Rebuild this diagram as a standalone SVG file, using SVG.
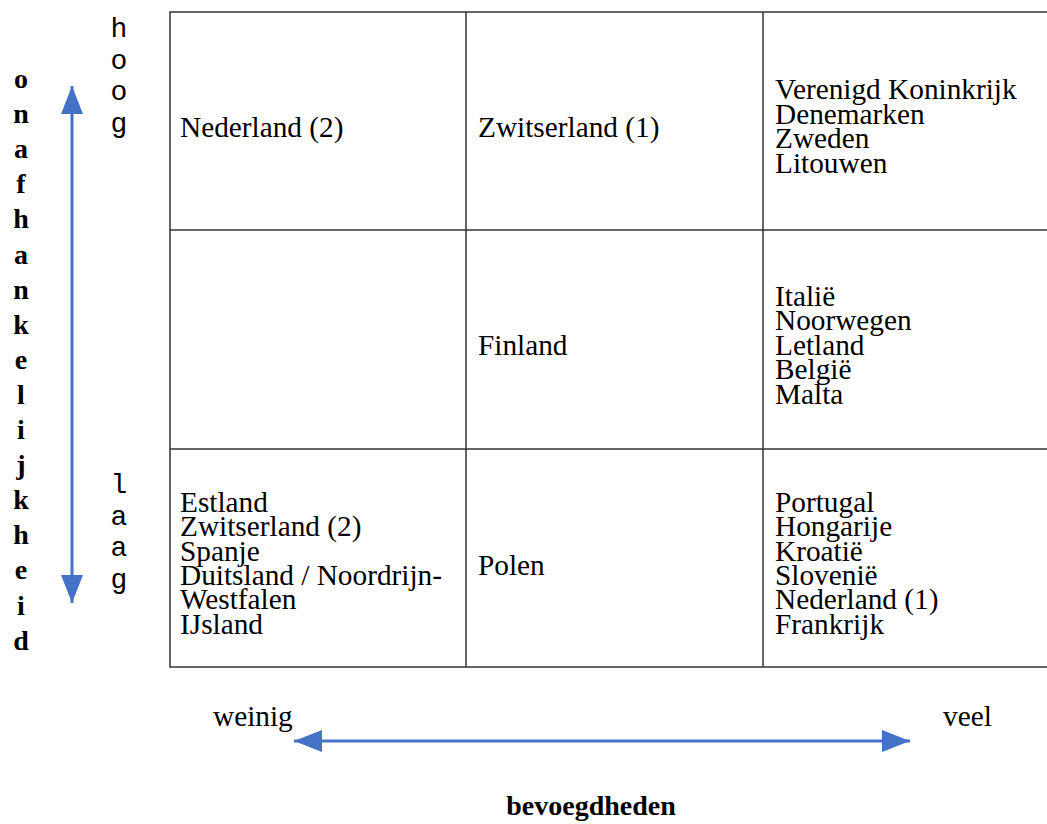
<svg xmlns="http://www.w3.org/2000/svg" width="1047" height="824" viewBox="0 0 1047 824">
<defs>
<style>
.t{font-family:"Liberation Serif","Times New Roman",serif;font-size:29.3px;fill:#000}
.b{font-family:"Liberation Serif","Times New Roman",serif;font-size:28px;font-weight:bold;fill:#000;text-anchor:middle}
.m{font-family:"Liberation Mono","Courier New",monospace;font-size:28px;fill:#000;text-anchor:middle}
.g{stroke:#333;stroke-width:1.5;fill:none}
.ax{stroke:#4472C4;stroke-width:3;fill:none}
</style>
<marker id="ah" markerUnits="userSpaceOnUse" markerWidth="28" markerHeight="22" refX="28" refY="11" orient="auto-start-reverse" viewBox="0 0 28 22">
<path d="M0,0 L28,11 L0,22 Z" fill="#4472C4"/>
</marker>
</defs>
<rect width="1047" height="824" fill="#fff"/>
<g id="grid">
<rect class="g" x="170" y="12" width="900" height="655"/>
<line class="g" x1="170" y1="230" x2="1070" y2="230"/>
<line class="g" x1="170" y1="449" x2="1070" y2="449"/>
<line class="g" x1="466" y1="12" x2="466" y2="667"/>
<line class="g" x1="763" y1="12" x2="763" y2="667"/>
</g>
<g id="cell-r1c1"><text class="t" x="180" y="137">Nederland (2)</text></g>
<g id="cell-r1c2"><text class="t" x="478" y="137">Zwitserland (1)</text></g>
<g id="cell-r1c3"><text class="t" x="775" y="99">Verenigd Koninkrijk<tspan x="775" dy="24.5">Denemarken</tspan><tspan x="775" dy="24.5">Zweden</tspan><tspan x="775" dy="24.5">Litouwen</tspan></text></g>
<g id="cell-r2c2"><text class="t" x="478" y="355">Finland</text></g>
<g id="cell-r2c3"><text class="t" x="775" y="306">Italië<tspan x="775" dy="24.4">Noorwegen</tspan><tspan x="775" dy="24.4">Letland</tspan><tspan x="775" dy="24.4">België</tspan><tspan x="775" dy="24.4">Malta</tspan></text></g>
<g id="cell-r3c1"><text class="t" x="180" y="512">Estland<tspan x="180" dy="24.3">Zwitserland (2)</tspan><tspan x="180" dy="24.3">Spanje</tspan><tspan x="180" dy="24.3">Duitsland / Noordrijn-</tspan><tspan x="180" dy="24.3">Westfalen</tspan><tspan x="180" dy="24.3">IJsland</tspan></text></g>
<g id="cell-r3c2"><text class="t" x="478" y="575">Polen</text></g>
<g id="cell-r3c3"><text class="t" x="775" y="512">Portugal<tspan x="775" dy="24.3">Hongarije</tspan><tspan x="775" dy="24.3">Kroatië</tspan><tspan x="775" dy="24.3">Slovenië</tspan><tspan x="775" dy="24.3">Nederland (1)</tspan><tspan x="775" dy="24.3">Frankrijk</tspan></text></g>
<g id="label-onafhankelijkheid">
<text class="b" x="21" y="88">o<tspan x="21" dy="35.1">n</tspan><tspan x="21" dy="35.1">a</tspan><tspan x="21" dy="35.1">f</tspan><tspan x="21" dy="35.1">h</tspan><tspan x="21" dy="35.1">a</tspan><tspan x="21" dy="35.1">n</tspan><tspan x="21" dy="35.1">k</tspan><tspan x="21" dy="35.1">e</tspan><tspan x="21" dy="35.1">l</tspan><tspan x="21" dy="35.1">i</tspan><tspan x="21" dy="35.1">j</tspan><tspan x="21" dy="35.1">k</tspan><tspan x="21" dy="35.1">h</tspan><tspan x="21" dy="35.1">e</tspan><tspan x="21" dy="35.1">i</tspan><tspan x="21" dy="35.1">d</tspan></text>
</g>
<g id="label-hoog"><text class="m" x="119" y="37">h<tspan x="119" dy="31.5">o</tspan><tspan x="119" dy="31.5">o</tspan><tspan x="119" dy="31.5">g</tspan></text></g>
<g id="label-laag"><text class="m" x="119" y="493">l<tspan x="119" dy="31.5">a</tspan><tspan x="119" dy="31.5">a</tspan><tspan x="119" dy="31.5">g</tspan></text></g>
<g id="label-weinig"><text class="t" x="213" y="726">weinig</text></g>
<g id="label-veel"><text class="t" x="943" y="726">veel</text></g>
<g id="label-bevoegdheden"><text class="b" x="591" y="815">bevoegdheden</text></g>
<g id="connectors">
<line class="ax" x1="72" y1="603" x2="72" y2="86" marker-start="url(#ah)" marker-end="url(#ah)"/>
<line class="ax" x1="294" y1="741" x2="910" y2="741" marker-start="url(#ah)" marker-end="url(#ah)"/>
</g>
</svg>
